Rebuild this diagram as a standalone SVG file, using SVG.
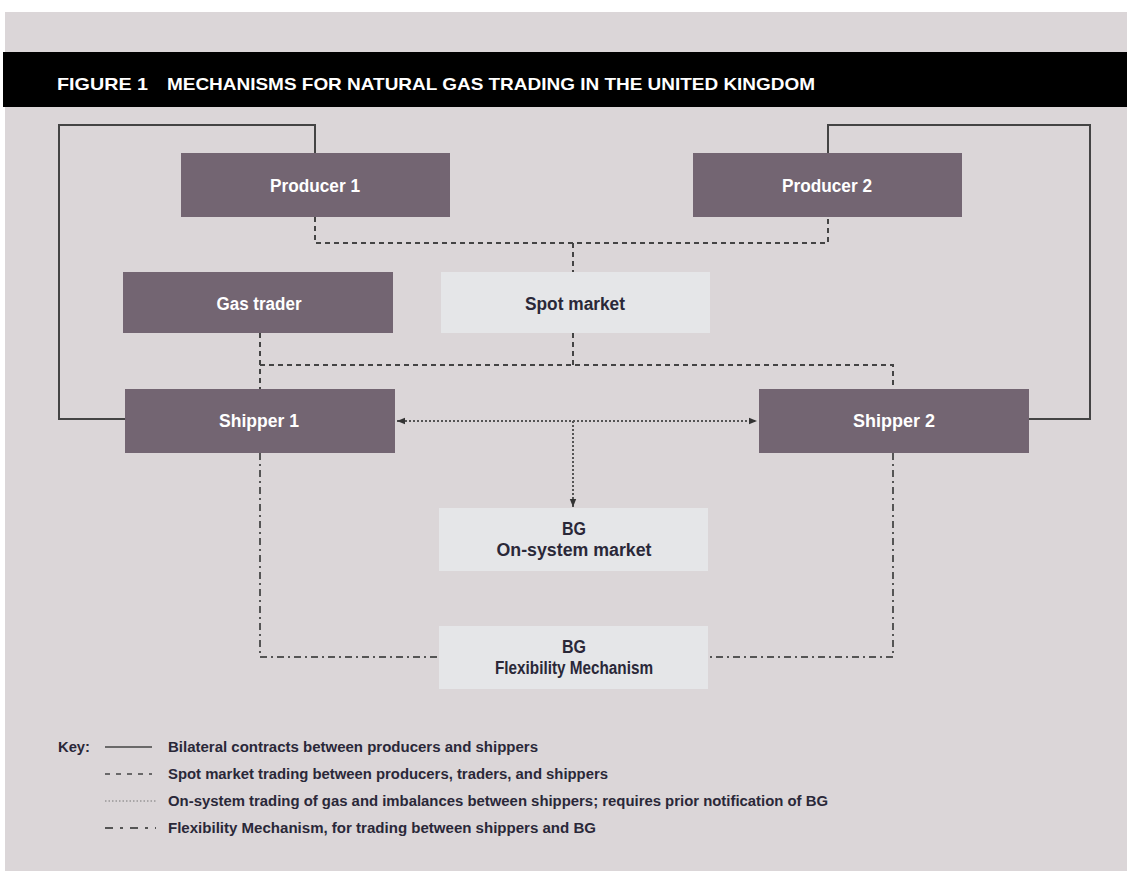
<svg xmlns="http://www.w3.org/2000/svg" width="1127" height="871" viewBox="0 0 1127 871">
<defs>
<style>
.dark{fill:#736572;}
.light{fill:#e5e6e8;}
.tw{font-family:"Liberation Sans",Arial,sans-serif;font-weight:bold;font-size:18px;fill:#ffffff;text-anchor:middle;}
.td{font-family:"Liberation Sans",Arial,sans-serif;font-weight:bold;font-size:18px;fill:#2a2838;text-anchor:middle;}
.key{font-family:"Liberation Sans",Arial,sans-serif;font-weight:bold;font-size:14px;fill:#2a2838;}
.solid{fill:none;stroke:#444;stroke-width:2;}
.dash{fill:none;stroke:#444;stroke-width:2;stroke-dasharray:5,4;}
.dot{fill:none;stroke:#555;stroke-width:2;stroke-dasharray:2,2;}
.dashdot{fill:none;stroke:#555;stroke-width:2;stroke-dasharray:7,4,2,4;}
</style>
<marker id="ah" viewBox="0 0 10 10" refX="10" refY="5" markerWidth="8" markerHeight="8" orient="auto-start-reverse" markerUnits="userSpaceOnUse">
<path d="M0,1 L10,5 L0,9 Z" fill="#333"/>
</marker>
</defs>
<rect x="0" y="0" width="1127" height="871" fill="#ffffff"/>
<rect x="5" y="12" width="1122" height="859" fill="#dbd6d8"/>
<rect x="3" y="52" width="1124" height="55" fill="#000000"/>
<text x="57" y="90" font-family="'Liberation Sans',Arial,sans-serif" font-weight="bold" font-size="17" fill="#ffffff" textLength="91" lengthAdjust="spacingAndGlyphs">FIGURE 1</text>
<text x="167" y="90" font-family="'Liberation Sans',Arial,sans-serif" font-weight="bold" font-size="17" fill="#ffffff" textLength="648" lengthAdjust="spacingAndGlyphs">MECHANISMS FOR NATURAL GAS TRADING IN THE UNITED KINGDOM</text>

<g id="connectors">
<path class="solid" d="M315,153 V125 H59 V419 H125"/>
<path class="solid" d="M828,153 V125 H1090 V419 H1029"/>
<path class="dash" d="M315,217 V243 H828 V217"/>
<path class="dash" d="M573,243 V272"/>
<path class="dash" d="M573,333 V365"/>
<path class="dash" d="M260,333 V389"/>
<path class="dash" d="M260,365 H893 V389"/>
<path class="dot" d="M397,421 H757" marker-start="url(#ah)" marker-end="url(#ah)"/>
<path class="dot" d="M573,421 V507" marker-end="url(#ah)"/>
<path class="dashdot" d="M260,453 V657 H439"/>
<path class="dashdot" d="M893,453 V657 H708"/>
</g>

<g id="producer1"><rect class="dark" x="181" y="153" width="269" height="64"/><text class="tw" x="315" y="192" textLength="90" lengthAdjust="spacingAndGlyphs">Producer 1</text></g>
<g id="producer2"><rect class="dark" x="693" y="153" width="269" height="64"/><text class="tw" x="827" y="192" textLength="90" lengthAdjust="spacingAndGlyphs">Producer 2</text></g>
<g id="gastrader"><rect class="dark" x="123" y="272" width="270" height="61"/><text class="tw" x="259" y="310" textLength="85" lengthAdjust="spacingAndGlyphs">Gas trader</text></g>
<g id="spotmarket"><rect class="light" x="441" y="272" width="269" height="61"/><text class="td" x="575" y="310" textLength="100" lengthAdjust="spacingAndGlyphs">Spot market</text></g>
<g id="shipper1"><rect class="dark" x="125" y="389" width="270" height="64"/><text class="tw" x="259" y="427" textLength="80" lengthAdjust="spacingAndGlyphs">Shipper 1</text></g>
<g id="shipper2"><rect class="dark" x="759" y="389" width="270" height="64"/><text class="tw" x="894" y="427" textLength="82" lengthAdjust="spacingAndGlyphs">Shipper 2</text></g>
<g id="bgonsystem"><rect class="light" x="439" y="508" width="269" height="63"/><text class="td" x="574" y="535" textLength="24" lengthAdjust="spacingAndGlyphs">BG</text><text class="td" x="574" y="556" textLength="155" lengthAdjust="spacingAndGlyphs">On-system market</text></g>
<g id="bgflex"><rect class="light" x="439" y="626" width="269" height="63"/><text class="td" x="574" y="653" textLength="24" lengthAdjust="spacingAndGlyphs">BG</text><text class="td" x="574" y="674" textLength="158" lengthAdjust="spacingAndGlyphs">Flexibility Mechanism</text></g>

<g id="key">
<text class="key" x="58" y="752" textLength="32" lengthAdjust="spacingAndGlyphs">Key:</text>
<line x1="105" y1="747" x2="152" y2="747" stroke="#444" stroke-width="1.5"/>
<text class="key" x="168" y="752" textLength="370" lengthAdjust="spacingAndGlyphs">Bilateral contracts between producers and shippers</text>
<line x1="105" y1="774" x2="152" y2="774" stroke="#444" stroke-width="1.5" stroke-dasharray="5,6"/>
<text class="key" x="168" y="779" textLength="440" lengthAdjust="spacingAndGlyphs">Spot market trading between producers, traders, and shippers</text>
<line x1="105" y1="801" x2="156" y2="801" stroke="#777" stroke-width="1" stroke-dasharray="1.5,2"/>
<text class="key" x="168" y="806" textLength="660" lengthAdjust="spacingAndGlyphs">On-system trading of gas and imbalances between shippers; requires prior notification of BG</text>
<line x1="105" y1="828" x2="156" y2="828" stroke="#555" stroke-width="2" stroke-dasharray="8,7,3,7"/>
<text class="key" x="168" y="833" textLength="428" lengthAdjust="spacingAndGlyphs">Flexibility Mechanism, for trading between shippers and BG</text>
</g>
</svg>
